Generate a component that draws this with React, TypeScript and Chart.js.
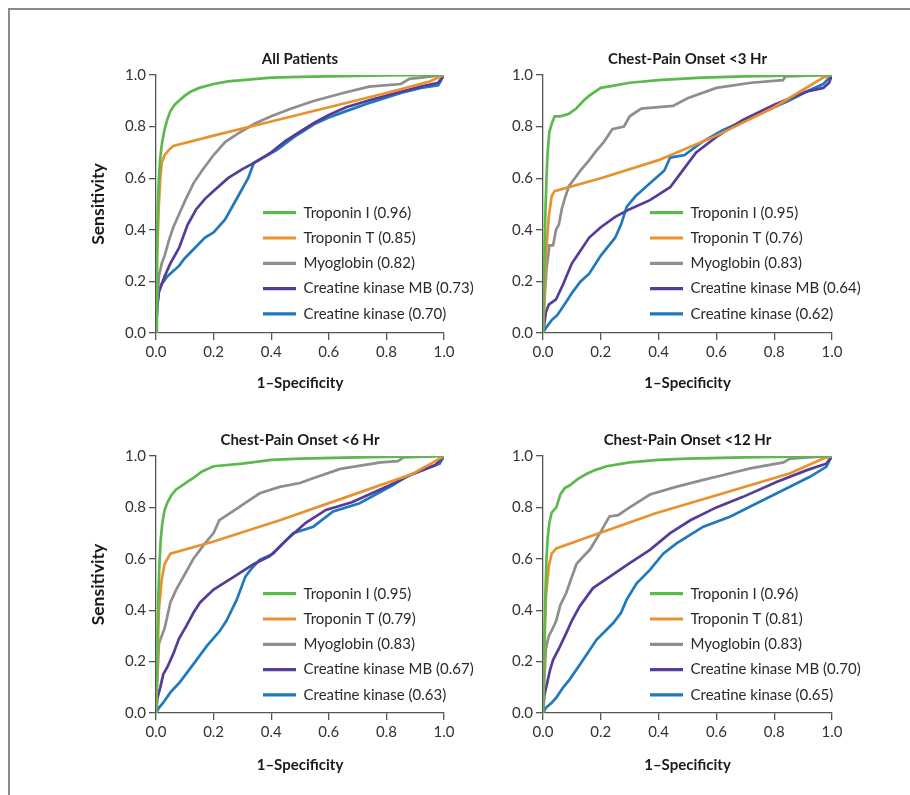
import React, { useEffect, useRef } from "react";
import { Chart, registerables } from "chart.js";

Chart.register(...registerables);
Chart.defaults.font.family = "Lato";

type Pt = [number, number];

// ---------- labels ----------
const MARKERS = ["Troponin I", "Troponin T", "Myoglobin", "Creatine kinase MB", "Creatine kinase"];
const COLORS = ["#5bba4c", "#e8912d", "#8e8e8e", "#573b98", "#2179bd"];
const AXIS_TICKS = [0, 0.2, 0.4, 0.6, 0.8, 1.0];
const PANEL_TITLES = ["All Patients", "Chest-Pain Onset <3 Hr", "Chest-Pain Onset <6 Hr", "Chest-Pain Onset <12 Hr"];
const X_TITLE = "1\u2013Specificity";
const Y_TITLE = "Sensitivity";

// ---------- AUC values ----------
const AUC_ALL = [0.96, 0.85, 0.82, 0.73, 0.7];
const AUC_3H = [0.95, 0.76, 0.83, 0.64, 0.62];
const AUC_6H = [0.95, 0.79, 0.83, 0.67, 0.63];
const AUC_12H = [0.96, 0.81, 0.83, 0.7, 0.65];

// ---------- All patients ----------
const ALL_TNI: Pt[] = [[0,0],[0.003,0.3],[0.006,0.48],[0.01,0.6],[0.015,0.68],[0.02,0.73],[0.03,0.79],[0.04,0.83],[0.05,0.86],[0.065,0.885],[0.08,0.9],[0.1,0.92],[0.12,0.935],[0.15,0.95],[0.2,0.965],[0.25,0.975],[0.3,0.98],[0.4,0.99],[0.5,0.993],[0.6,0.995],[0.8,0.998],[1,1]];
const ALL_TNT: Pt[] = [[0,0],[0.004,0.3],[0.01,0.5],[0.015,0.6],[0.02,0.66],[0.03,0.69],[0.045,0.71],[0.06,0.725],[0.2,0.765],[0.4,0.82],[0.6,0.875],[0.8,0.93],[0.95,0.975],[1,1]];
const ALL_MYO: Pt[] = [[0,0],[0.004,0.12],[0.01,0.22],[0.02,0.27],[0.03,0.3],[0.045,0.36],[0.06,0.41],[0.08,0.46],[0.1,0.51],[0.13,0.58],[0.16,0.63],[0.2,0.69],[0.24,0.74],[0.28,0.77],[0.34,0.81],[0.4,0.84],[0.47,0.87],[0.55,0.9],[0.65,0.93],[0.74,0.955],[0.85,0.965],[0.88,0.985],[0.92,0.99],[1,1]];
const ALL_CKMB: Pt[] = [[0,0],[0.004,0.1],[0.01,0.16],[0.03,0.22],[0.05,0.27],[0.08,0.33],[0.11,0.42],[0.14,0.48],[0.17,0.52],[0.2,0.55],[0.25,0.6],[0.3,0.635],[0.35,0.665],[0.4,0.7],[0.45,0.745],[0.5,0.78],[0.55,0.815],[0.6,0.845],[0.66,0.875],[0.75,0.905],[0.85,0.935],[0.92,0.955],[0.98,0.97],[1,1]];
const ALL_CK: Pt[] = [[0,0],[0.004,0.1],[0.01,0.16],[0.02,0.19],[0.04,0.22],[0.06,0.24],[0.08,0.26],[0.1,0.29],[0.14,0.335],[0.17,0.37],[0.2,0.39],[0.24,0.44],[0.27,0.5],[0.3,0.56],[0.32,0.6],[0.34,0.66],[0.38,0.685],[0.42,0.71],[0.48,0.76],[0.55,0.81],[0.6,0.835],[0.66,0.86],[0.75,0.895],[0.85,0.93],[0.92,0.95],[0.98,0.96],[1,1]];

// ---------- onset < 3 hr ----------
const H3_TNI: Pt[] = [[0,0],[0.004,0.25],[0.008,0.45],[0.012,0.6],[0.016,0.7],[0.022,0.78],[0.03,0.81],[0.04,0.84],[0.06,0.84],[0.09,0.85],[0.115,0.87],[0.14,0.9],[0.16,0.92],[0.2,0.95],[0.25,0.96],[0.3,0.97],[0.4,0.98],[0.55,0.99],[0.7,0.995],[1,1]];
const H3_TNT: Pt[] = [[0,0],[0.005,0.15],[0.01,0.3],[0.02,0.45],[0.03,0.53],[0.04,0.55],[0.2,0.6],[0.4,0.67],[0.6,0.765],[0.8,0.875],[0.97,0.99],[1,1]];
const H3_MYO: Pt[] = [[0,0],[0.004,0.1],[0.008,0.18],[0.012,0.25],[0.018,0.3],[0.022,0.34],[0.035,0.34],[0.045,0.4],[0.055,0.42],[0.065,0.48],[0.075,0.52],[0.09,0.57],[0.11,0.6],[0.13,0.63],[0.16,0.67],[0.18,0.7],[0.21,0.74],[0.24,0.79],[0.28,0.8],[0.3,0.84],[0.34,0.87],[0.45,0.88],[0.5,0.91],[0.6,0.95],[0.72,0.97],[0.83,0.98],[0.84,0.995],[1,1]];
const H3_CKMB: Pt[] = [[0,0],[0.01,0.08],[0.02,0.11],[0.045,0.13],[0.07,0.19],[0.1,0.27],[0.13,0.32],[0.16,0.37],[0.2,0.41],[0.25,0.45],[0.3,0.48],[0.37,0.515],[0.44,0.565],[0.49,0.64],[0.53,0.7],[0.6,0.76],[0.69,0.825],[0.8,0.885],[0.91,0.935],[0.97,0.95],[0.99,0.97],[1,1]];
const H3_CK: Pt[] = [[0,0],[0.01,0.02],[0.03,0.05],[0.05,0.07],[0.08,0.12],[0.1,0.155],[0.13,0.2],[0.16,0.23],[0.2,0.3],[0.25,0.37],[0.27,0.42],[0.29,0.49],[0.32,0.53],[0.37,0.58],[0.42,0.63],[0.44,0.68],[0.49,0.69],[0.55,0.74],[0.62,0.785],[0.74,0.845],[0.85,0.9],[0.92,0.94],[0.97,0.965],[1,1]];

// ---------- onset < 6 hr ----------
const H6_TNI: Pt[] = [[0,0],[0.004,0.25],[0.008,0.45],[0.012,0.58],[0.016,0.67],[0.022,0.74],[0.03,0.79],[0.04,0.82],[0.055,0.85],[0.07,0.87],[0.09,0.885],[0.11,0.9],[0.13,0.915],[0.16,0.94],[0.2,0.96],[0.3,0.97],[0.4,0.985],[0.5,0.99],[0.7,0.995],[1,1]];
const H6_TNT: Pt[] = [[0,0],[0.005,0.2],[0.01,0.4],[0.02,0.52],[0.03,0.58],[0.05,0.62],[0.2,0.667],[0.43,0.75],[0.66,0.84],[0.89,0.93],[0.97,0.98],[1,1]];
const H6_MYO: Pt[] = [[0,0],[0.004,0.12],[0.01,0.27],[0.02,0.3],[0.03,0.33],[0.04,0.38],[0.05,0.43],[0.07,0.48],[0.09,0.52],[0.13,0.6],[0.17,0.66],[0.2,0.7],[0.22,0.75],[0.26,0.78],[0.3,0.81],[0.36,0.855],[0.43,0.88],[0.5,0.895],[0.55,0.915],[0.64,0.95],[0.78,0.975],[0.84,0.98],[0.86,0.995],[1,1]];
const H6_CKMB: Pt[] = [[0,0],[0.005,0.06],[0.015,0.1],[0.025,0.15],[0.04,0.18],[0.06,0.23],[0.08,0.29],[0.106,0.34],[0.13,0.39],[0.153,0.43],[0.2,0.48],[0.27,0.53],[0.34,0.58],[0.395,0.61],[0.45,0.67],[0.52,0.74],[0.59,0.79],[0.68,0.82],[0.8,0.88],[0.89,0.93],[0.97,0.965],[1,1]];
const H6_CK: Pt[] = [[0,0],[0.01,0.02],[0.025,0.04],[0.05,0.08],[0.083,0.12],[0.13,0.19],[0.176,0.26],[0.222,0.32],[0.245,0.36],[0.28,0.44],[0.31,0.53],[0.33,0.56],[0.36,0.596],[0.407,0.62],[0.476,0.7],[0.546,0.725],[0.615,0.784],[0.707,0.816],[0.823,0.887],[0.87,0.92],[0.95,0.955],[0.985,0.97],[1,1]];

// ---------- onset < 12 hr ----------
const H12_TNI: Pt[] = [[0,0],[0.004,0.25],[0.008,0.45],[0.012,0.6],[0.016,0.68],[0.022,0.74],[0.03,0.78],[0.046,0.8],[0.06,0.85],[0.075,0.875],[0.092,0.885],[0.12,0.91],[0.15,0.93],[0.18,0.945],[0.22,0.96],[0.3,0.975],[0.4,0.985],[0.5,0.99],[0.7,0.995],[1,1]];
const H12_TNT: Pt[] = [[0,0],[0.005,0.25],[0.01,0.45],[0.02,0.57],[0.03,0.62],[0.046,0.64],[0.162,0.687],[0.39,0.777],[0.624,0.855],[0.855,0.933],[0.97,0.99],[1,1]];
const H12_MYO: Pt[] = [[0,0],[0.004,0.12],[0.01,0.25],[0.02,0.3],[0.03,0.32],[0.046,0.36],[0.06,0.42],[0.08,0.466],[0.1,0.53],[0.116,0.58],[0.14,0.61],[0.162,0.635],[0.197,0.7],[0.23,0.765],[0.26,0.77],[0.3,0.8],[0.37,0.85],[0.46,0.88],[0.555,0.907],[0.624,0.926],[0.717,0.952],[0.832,0.975],[0.855,0.99],[1,1]];
const H12_CKMB: Pt[] = [[0,0],[0.005,0.07],[0.015,0.12],[0.025,0.17],[0.035,0.207],[0.055,0.25],[0.08,0.31],[0.1,0.36],[0.127,0.415],[0.173,0.486],[0.23,0.53],[0.3,0.583],[0.37,0.635],[0.44,0.7],[0.51,0.75],[0.6,0.8],[0.69,0.84],[0.81,0.9],[0.913,0.945],[0.98,0.97],[1,1]];
const H12_CK: Pt[] = [[0,0],[0.01,0.02],[0.03,0.04],[0.046,0.06],[0.07,0.1],[0.092,0.13],[0.139,0.207],[0.185,0.285],[0.243,0.35],[0.27,0.39],[0.289,0.44],[0.324,0.505],[0.37,0.557],[0.416,0.62],[0.462,0.66],[0.555,0.725],[0.647,0.764],[0.74,0.816],[0.832,0.868],[0.925,0.92],[0.98,0.958],[1,1]];

const FONT_FAMILY = "Lato";
const LEGEND_PAD = 10.3;

interface PanelProps {
  left: number; top: number; width: number; height: number;
  padRight: number; xAxisHeight: number; xTitlePad: number;
  title: string; curves: Pt[][]; aucs: number[]; showYTitle: boolean;
}

// places the legend inside the plot area and centres the panel title over the plot area
const placer = {
  id: "placer",
  afterLayout(chart: any) {
    const ca = chart.chartArea;
    if (!ca) return;
    const lg = chart.legend;
    if (lg) {
      const w = lg.width;
      lg.left = ca.left + 107 - LEGEND_PAD;
      lg.top = ca.top + 137.7 - 7.5 - LEGEND_PAD;
      lg.right = lg.left + w;
      lg.bottom = ca.bottom + 100;
    }
    const tb = chart.titleBlock;
    if (tb) {
      tb.left = ca.left;
      tb.right = ca.right;
    }
  },
};

function Panel(p: PanelProps) {
  const ref = useRef<HTMLCanvasElement | null>(null);
  useEffect(() => {
    if (!ref.current) return;
    const tickFont = { family: FONT_FAMILY, size: 15 };
    const titleFont = { family: FONT_FAMILY, size: 15, weight: "bold" as const };
    const yTitleFont = { family: FONT_FAMILY, size: 17.5, weight: "bold" as const };
    const axisColor = "#555";
    const chart = new Chart(ref.current, {
      type: "scatter",
      data: {
        datasets: p.curves.map((c, i) => ({
          label: `${MARKERS[i]} (${p.aucs[i].toFixed(2)})`,
          data: c.map(([x, y]) => ({ x, y })),
          showLine: true, borderColor: COLORS[i], backgroundColor: COLORS[i],
          borderWidth: 2.7, pointRadius: 0, pointHoverRadius: 0, tension: 0, fill: false,
        })),
      },
      options: {
        responsive: false, animation: false, events: [],
        layout: { padding: { left: 0, right: p.padRight, top: 0, bottom: 0 } },
        plugins: {
          tooltip: { enabled: false },
          title: { display: true, text: p.title, font: titleFont, color: "#1a1a1a", padding: { top: 20, bottom: 7 } },
          legend: {
            position: "chartArea" as any, align: "start",
            labels: {
              font: tickFont, color: "#2a2a2a", boxWidth: 33, boxHeight: 3.2, padding: LEGEND_PAD,
              generateLabels: (c: any) =>
                Chart.defaults.plugins.legend.labels.generateLabels(c).map((l: any) => ({ ...l, lineWidth: 0 })),
            },
          },
        },
        scales: {
          x: {
            type: "linear", min: 0, max: 1,
            afterBuildTicks: (s: any) => { s.ticks = AXIS_TICKS.map((v) => ({ value: v })); },
            afterFit: (s: any) => { s.height = p.xAxisHeight; },
            ticks: { font: tickFont, color: "#333", padding: 3, maxRotation: 0, callback: (v: any) => Number(v).toFixed(1) },
            grid: { drawOnChartArea: false, drawTicks: true, tickLength: 7, color: axisColor, lineWidth: 1.3 },
            border: { display: true, color: axisColor, width: 1.3 },
            title: { display: true, text: X_TITLE, font: titleFont, color: "#1a1a1a", padding: { top: 0, bottom: p.xTitlePad } },
          },
          y: {
            type: "linear", min: 0, max: 1,
            afterBuildTicks: (s: any) => { s.ticks = AXIS_TICKS.map((v) => ({ value: v })); },
            afterFit: (s: any) => { s.width = 106; },
            ticks: { font: tickFont, color: "#333", padding: 3, callback: (v: any) => Number(v).toFixed(1) },
            grid: { drawOnChartArea: false, drawTicks: true, tickLength: 7, color: axisColor, lineWidth: 1.3 },
            border: { display: true, color: axisColor, width: 1.3 },
            title: { display: p.showYTitle, text: Y_TITLE, font: yTitleFont, color: "#1a1a1a", padding: { top: 37.5, bottom: 0 } },
          },
        },
      },
      plugins: [placer],
    } as any);
    return () => chart.destroy();
  }, []);
  return (
    <canvas ref={ref} width={p.width} height={p.height}
      style={{ position: "absolute", left: p.left, top: p.top, width: p.width, height: p.height }} />
  );
}

export default function App() {
  return (
    <div style={{ position: "absolute", left: 0, top: 0, width: 910, height: 795, background: "#fff", overflow: "hidden" }}>
      <div style={{ position: "absolute", left: 8, top: 8, width: 910, height: 800, borderTop: "2px solid #8a8a8a", borderLeft: "2px solid #8a8a8a", boxSizing: "border-box" }} />
      <Panel left={50} top={30} width={430} height={380} padRight={36} xAxisHeight={77} xTitlePad={18}
        title={PANEL_TITLES[0]} curves={[ALL_TNI, ALL_TNT, ALL_MYO, ALL_CKMB, ALL_CK]} aucs={AUC_ALL} showYTitle={true} />
      <Panel left={437} top={30} width={450} height={380} padRight={55} xAxisHeight={77} xTitlePad={18}
        title={PANEL_TITLES[1]} curves={[H3_TNI, H3_TNT, H3_MYO, H3_CKMB, H3_CK]} aucs={AUC_3H} showYTitle={false} />
      <Panel left={50} top={411} width={430} height={380} padRight={36} xAxisHeight={78} xTitlePad={17}
        title={PANEL_TITLES[2]} curves={[H6_TNI, H6_TNT, H6_MYO, H6_CKMB, H6_CK]} aucs={AUC_6H} showYTitle={true} />
      <Panel left={437} top={411} width={450} height={380} padRight={55} xAxisHeight={78} xTitlePad={17}
        title={PANEL_TITLES[3]} curves={[H12_TNI, H12_TNT, H12_MYO, H12_CKMB, H12_CK]} aucs={AUC_12H} showYTitle={false} />
    </div>
  );
}
